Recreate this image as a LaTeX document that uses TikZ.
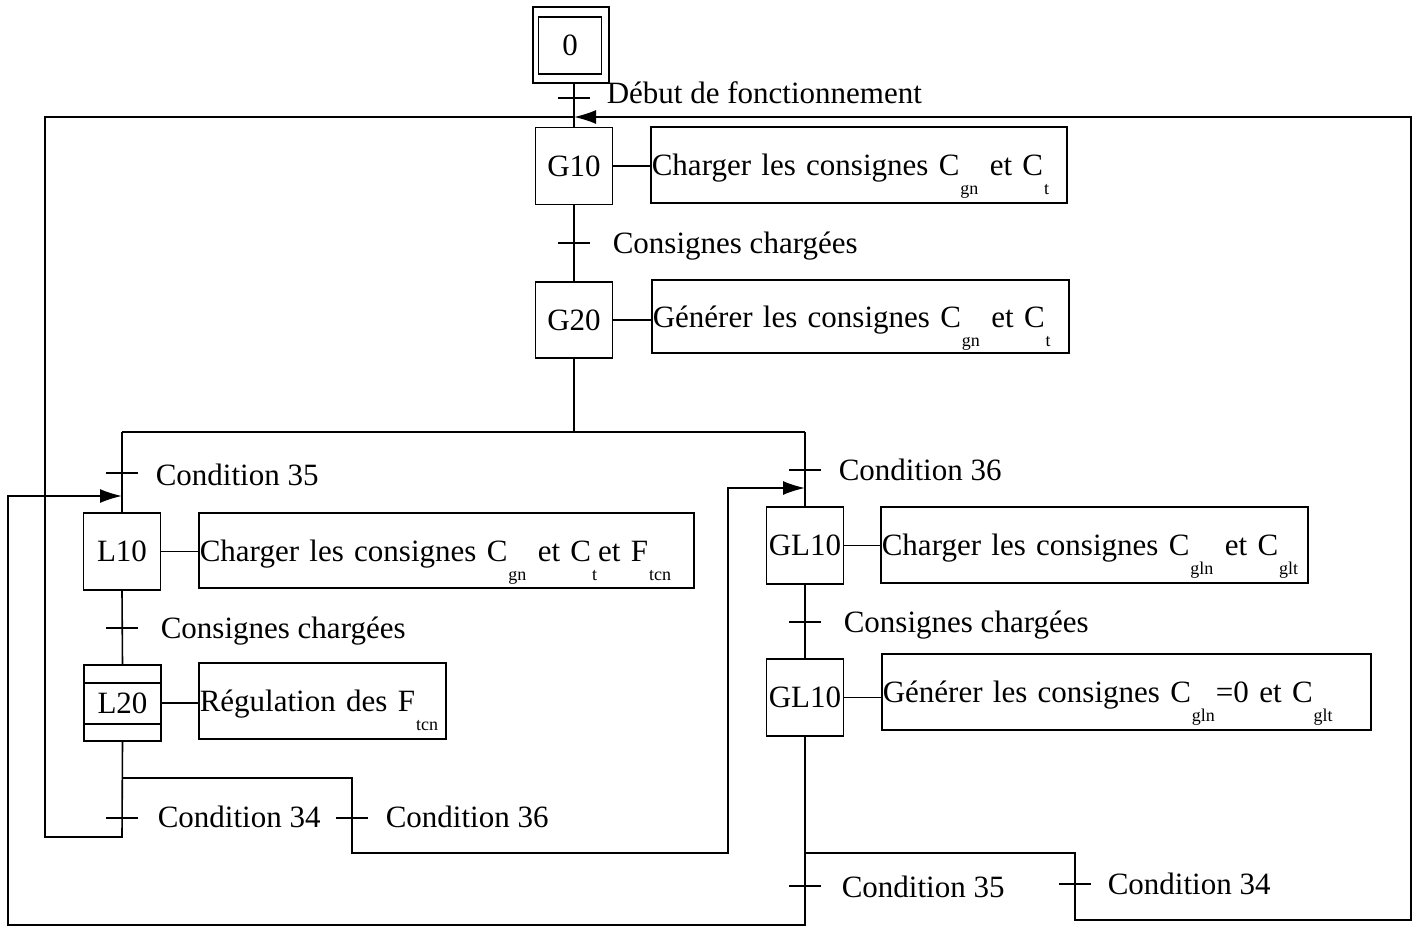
\documentclass[tikz,border=0pt]{standalone}
\usepackage{fontspec}
\setmainfont{Liberation Serif}
\usetikzlibrary{arrows.meta}
\newcommand{\mysub}[1]{\hspace{1pt}\raisebox{-19pt}[0pt][0pt]{\fontsize{18}{18}\selectfont #1}\hspace{1pt}}
\begin{document}
\begin{tikzpicture}[x=1pt,y=-1pt,line width=1.6pt,
  every node/.style={font=\fontsize{31}{36}\selectfont},
  stepbox/.style={draw,minimum width=77pt,minimum height=77pt,inner sep=0pt},
  actbox/.style={draw,anchor=west,minimum height=76pt,inner xsep=1pt,inner ysep=0pt,
    align=left,text height=21pt,text depth=0pt},
  lbl/.style={anchor=base west,inner sep=0pt},
  arr/.style={-{Latex[length=22pt,width=14pt]}}]
\useasboundingbox (0,0) rectangle (1420,928);

% initial step
\node[draw,minimum width=76pt,minimum height=76pt,inner sep=0pt] (S0) at (571,45) {};
\node[draw,minimum width=63pt,minimum height=57pt,inner sep=0pt] (S0i) at (570,45.5) {0};

% main column
\node[stepbox] (G10) at (574,166) {G10};
\node[actbox,text width=414pt] (A10) at (650,165) {Charger les consignes C\mysub{gn} et C\mysub{t}};
\node[stepbox,minimum height=76pt] (G20) at (574,320) {G20};
\node[actbox,minimum height=73pt,text width=415pt] (A20) at (651,316.5) {Générer les consignes C\mysub{gn} et C\mysub{t}};

% left branch
\node[stepbox] (L10) at (122,551.5) {L10};
\node[actbox,minimum height=75pt,text width=493pt] (AL10) at (198,550.5) {Charger les consignes C\mysub{gn} et C\mysub{t}et F\mysub{tcn}};
\node[stepbox,minimum height=76pt] (L20) at (122.5,703) {L20};
\node[actbox,text width=245pt] (AL20) at (198,701) {Régulation des F\mysub{tcn}};

% right branch
\node[stepbox] (GL1) at (805,545.5) {GL10};
\node[actbox,text width=425pt] (AGL1) at (880,545) {Charger les consignes C\mysub{gln} et C\mysub{glt}};
\node[stepbox] (GL2) at (805,697.5) {GL10};
\node[actbox,text width=487pt] (AGL2) at (881,692) {Générer les consignes C\mysub{gln}=0 et C\mysub{glt}};

% L20 inner lines
\draw ([yshift=-19pt]L20.north west) -- ([yshift=-19pt]L20.north east);
\draw ([yshift=18pt]L20.south west) -- ([yshift=18pt]L20.south east);

% step-action links
\draw (G10.east) -- (G10.east -| A10.west);
\draw (G20.east) -- (G20.east -| A20.west);
\draw (L10.east) -- (L10.east -| AL10.west);
\draw (L20.east) -- (L20.east -| AL20.west);
\draw (GL1.east) -- (GL1.east -| AGL1.west);
\draw (GL2.east) -- (GL2.east -| AGL2.west);

% coordinates
\coordinate (jG10) at (574,117);
\coordinate (divL) at (122,432);
\coordinate (divR) at (805,432);
\coordinate (jL10) at (122,496);
\coordinate (jGL1) at (805,488);

% vertical links
\draw (G10.north |- S0.south) -- (G10.north);
\draw (G10.south) -- (G20.north);
\draw (G20.south) -- (574,432);
\draw (divL) -- (divR);
\draw (divL) -- (L10.north);
\draw (divR) -- (GL1.north);
\draw (L10.south) -- (L20.north);
\draw (GL1.south) -- (GL2.north);

% loops
\draw[arr] (GL2.south) -- (805,853) -- (1075,853) -- (1075,920) -- (1411,920) -- (1411,117) -- (jG10);
\draw (L20.south) -- (122,837) -- (45,837) -- (45,117) -- (jG10);
\draw[arr] (GL2.south) -- (805,925) -- (8,925) -- (8,496) -- (jL10);
\draw[arr] (122,778) -- (352,778) -- (352,853) -- (728,853) -- (728,488) -- (jGL1);

% transition ticks
\draw (574,98) ++(-16,0) -- ++(32,0);
\draw (574,243) ++(-16,0) -- ++(32,0);
\draw (122,473) ++(-16,0) -- ++(32,0);
\draw (122,628) ++(-16,0) -- ++(32,0);
\draw (122,818) ++(-16,0) -- ++(32,0);
\draw (352,818) ++(-16,0) -- ++(32,0);
\draw (805,470) ++(-16,0) -- ++(32,0);
\draw (805,622) ++(-16,0) -- ++(32,0);
\draw (805,886) ++(-16,0) -- ++(32,0);
\draw (1075,884) ++(-16,0) -- ++(32,0);

% transition labels
\node[lbl] (t0) at (606,104) {Début de fonctionnement};
\node[lbl] (t1) at (612,253) {Consignes chargées};
\node[lbl] (t2) at (155,485) {Condition 35};
\node[lbl] (t3) at (160,638) {Consignes chargées};
\node[lbl] (t4) at (157,827) {Condition 34};
\node[lbl] (t5) at (385,827) {Condition 36};
\node[lbl] (t6) at (838,480) {Condition 36};
\node[lbl] (t7) at (843,632) {Consignes chargées};
\node[lbl] (t8) at (841,897) {Condition 35};
\node[lbl] (t9) at (1107,894) {Condition 34};
\end{tikzpicture}
\end{document}
